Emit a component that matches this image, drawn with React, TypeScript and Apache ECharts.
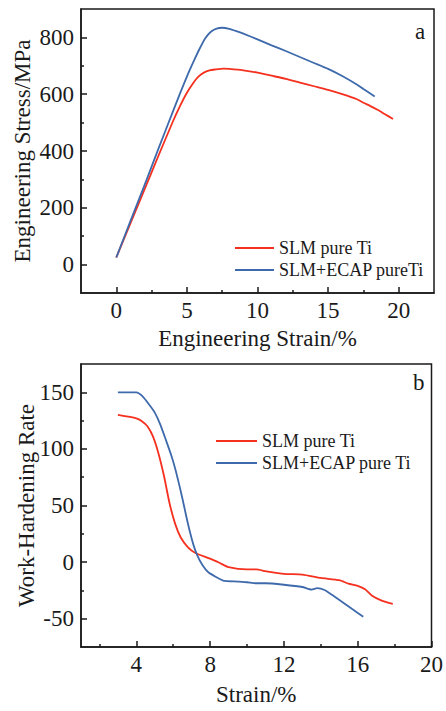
import React, { useEffect, useRef } from "react";
import * as echarts from "echarts";

// Panel a: engineering stress-strain
const aRedStrain = [0, 1, 2, 3, 4, 4.5, 5, 5.5, 5.8, 6.2, 6.6, 7, 7.6, 8, 9, 10, 11, 12, 13, 14, 15, 16, 17, 17.5, 18, 18.5, 19, 19.6];
const aRedStress = [25, 145, 265, 385, 503, 557, 605, 643, 661, 676, 684, 687, 690, 689, 684, 676, 665, 654, 641, 628, 615, 600, 583, 570, 558, 545, 530, 513];
const aBlueStrain = [0, 1, 2, 3, 4, 4.5, 5, 5.5, 5.9, 6.3, 6.7, 7.1, 7.5, 8, 8.5, 9, 10, 11, 12, 13, 14, 15, 16, 17, 17.5, 18.3];
const aBlueStress = [25, 153, 280, 410, 538, 601, 662, 718, 760, 797, 820, 831, 834, 830, 822, 813, 793, 772, 752, 731, 710, 689, 664, 635, 618, 592];

// Panel b: work-hardening rate
const bRedStrain = [3, 4, 4.3, 4.6, 4.9, 5.2, 5.5, 5.8, 6.1, 6.4, 6.8, 7.2, 8, 8.5, 9, 10, 10.5, 11, 12, 13, 14, 15, 15.5, 16, 16.4, 16.8, 17.3, 17.9];
const bRedRate = [130, 127, 124.5, 120, 111, 96, 76, 52, 34, 22, 13, 8, 3, -0.6, -4.5, -6.5, -6.5, -8, -10.4, -11, -14, -16, -19, -21, -24, -30, -34, -37];
const bBlueStrain = [3, 4, 4.3, 4.7, 5, 5.3, 5.6, 5.9, 6.1, 6.3, 6.5, 6.7, 6.9, 7.1, 7.3, 7.6, 7.9, 8.3, 8.7, 9.5, 10, 10.5, 11, 12, 13, 13.5, 13.8, 14.2, 14.7, 15.2, 15.7, 16.3];
const bBlueRate = [150, 150, 147, 139, 132, 121.5, 108, 94, 83, 70, 56, 41, 27, 15, 6, -3, -9, -13, -16.3, -17.2, -17.8, -18.7, -18.7, -20, -22, -24.3, -23, -24.6, -30, -35.6, -41.5, -48.3];

const aXMajor = [0, 5, 10, 15, 20];
const aXMinor = [2.5, 7.5, 12.5, 17.5];
const aYMajor = [0, 200, 400, 600, 800];
const aYMinor = [100, 300, 500, 700];
const bXMajor = [4, 8, 12, 16, 20];
const bXMinor = [2, 6, 10, 14, 18];
const bYMajor = [-50, 0, 50, 100, 150];
const bYMinor = [-25, 25, 75, 125];

const nameRed = "SLM pure Ti";
const nameBlueA = "SLM+ECAP pureTi";
const nameBlueB = "SLM+ECAP pure Ti";

const zip = (xs: number[], ys: number[]) => xs.map((x, i) => [x, ys[i]]);

const FONT = "'Liberation Serif', 'Times New Roman', serif";
const INK = "#1a1a1a";
const RED = "#f5301e";
const BLUE = "#3e6aac";

function mainAxis(kind: "x" | "y", grid: number, min: number, max: number, major: number[], name: string, nameGap: number) {
  return {
    type: "value",
    gridIndex: grid,
    position: kind === "x" ? "bottom" : "left",
    min,
    max,
    name,
    nameLocation: "middle",
    nameGap,
    nameMoveOverlap: false,
    nameTextStyle: { fontFamily: FONT, fontSize: 23, color: INK },
    axisLine: { show: true, onZero: false, lineStyle: { color: INK, width: 1.5 } },
    axisTick: { show: true, inside: true, length: 6, customValues: major, lineStyle: { color: INK, width: 1.5 } },
    axisLabel: { show: true, customValues: major, margin: kind === "x" ? 6 : 7, fontFamily: FONT, fontSize: 23, color: INK },
    splitLine: { show: false },
  };
}

function minorAxis(kind: "x" | "y", grid: number, min: number, max: number, minor: number[]) {
  return {
    type: "value",
    gridIndex: grid,
    position: kind === "x" ? "bottom" : "left",
    min,
    max,
    axisLine: { show: false, onZero: false },
    axisTick: { show: true, inside: true, length: 3, customValues: minor, lineStyle: { color: INK, width: 1.5 } },
    axisLabel: { show: false },
    splitLine: { show: false },
  };
}

export default function App() {
  const ref = useRef<HTMLDivElement>(null);
  useEffect(() => {
    if (!ref.current) return;
    const chart = echarts.init(ref.current, undefined, { renderer: "svg" });
    const lineSeries = (name: string, color: string, xi: number, yi: number, data: number[][]) => ({
      type: "line",
      name,
      xAxisIndex: xi,
      yAxisIndex: yi,
      data,
      showSymbol: false,
      symbol: "none",
      smooth: 0.2,
      lineStyle: { color, width: 1.8 },
      itemStyle: { color },
    });
    const legendText = { fontFamily: FONT, fontSize: 18, color: INK };
    chart.setOption({
      animation: false,
      backgroundColor: "#ffffff",
      grid: [
        { left: 81, top: 9, right: 12, height: 284, show: true, borderColor: INK, borderWidth: 1.5, backgroundColor: "transparent" },
        { left: 81, top: 364, right: 12, height: 283, show: true, borderColor: INK, borderWidth: 1.5, backgroundColor: "transparent" },
      ],
      xAxis: [
        mainAxis("x", 0, -2.5, 22.5, aXMajor, "Engineering Strain/%", 34),
        minorAxis("x", 0, -2.5, 22.5, aXMinor),
        mainAxis("x", 1, 1, 20, bXMajor, "Strain/%", 36),
        minorAxis("x", 1, 1, 20, bXMinor),
      ],
      yAxis: [
        mainAxis("y", 0, -100, 900, aYMajor, "Engineering Stress/MPa", 47),
        minorAxis("y", 0, -100, 900, aYMinor),
        mainAxis("y", 1, -75, 175, bYMajor, "Work-Hardening Rate", 43),
        minorAxis("y", 1, -75, 175, bYMinor),
      ],
      legend: [
        {
          data: [nameRed + " ", nameBlueA],
          orient: "vertical",
          left: 230,
          top: 234,
          icon: "rect",
          itemWidth: 39,
          itemHeight: 2,
          itemGap: 4,
          textStyle: legendText,
        },
        {
          data: [nameRed, nameBlueB],
          orient: "vertical",
          left: 211,
          top: 427,
          icon: "rect",
          itemWidth: 41,
          itemHeight: 2,
          itemGap: 4,
          textStyle: legendText,
        },
      ],
      series: [
        lineSeries(nameRed + " ", RED, 0, 0, zip(aRedStrain, aRedStress)),
        lineSeries(nameBlueA, BLUE, 0, 0, zip(aBlueStrain, aBlueStress)),
        lineSeries(nameRed, RED, 2, 2, zip(bRedStrain, bRedRate)),
        lineSeries(nameBlueB, BLUE, 2, 2, zip(bBlueStrain, bBlueRate)),
      ],
      graphic: [
        { type: "text", left: 415, top: 20, style: { text: "a", fontFamily: FONT, fontSize: 23, fill: INK } },
        { type: "text", left: 413, top: 371, style: { text: "b", fontFamily: FONT, fontSize: 23, fill: INK } },
      ],
    });
    return () => chart.dispose();
  }, []);
  return <div ref={ref} style={{ position: "fixed", left: 0, top: 0, width: 446, height: 711, background: "#fff" }} />;
}
